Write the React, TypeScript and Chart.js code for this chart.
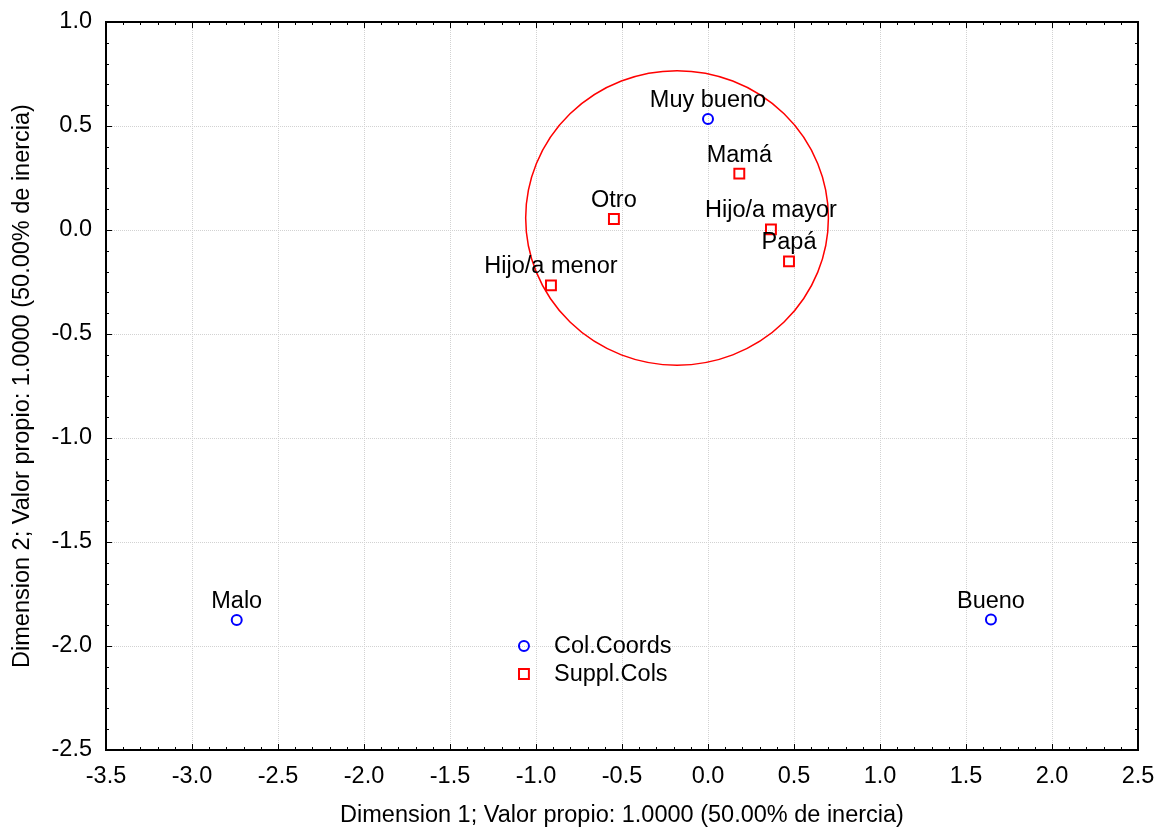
import React, { useEffect, useRef } from "react";
import { Chart, registerables } from "chart.js";

Chart.register(...registerables);

// Column coordinates (blue circles)
const colLabels = ["Muy bueno", "Malo", "Bueno"];
const colX = [0.0, -2.74, 1.645];
const colY = [0.534, -1.875, -1.873];

// Supplementary columns (red squares)
const supLabels = ["Mamá", "Otro", "Hijo/a mayor", "Papá", "Hijo/a menor"];
const supX = [0.182, -0.547, 0.366, 0.471, -0.913];
const supY = [0.271, 0.053, 0.003, -0.151, -0.266];

// Highlight ellipse (data units)
const ellipseCenter = [-0.18, 0.058];
const ellipseRadii = [0.88, 0.708];

const seriesNames = ["Col.Coords", "Suppl.Cols"];
const xRange = [-3.5, 2.5];
const yRange = [-2.5, 1.0];
const majorStep = 0.5;
const minorStep = 0.1;

const xTitle = "Dimension 1; Valor propio: 1.0000 (50.00% de inercia)";
const yTitle = "Dimension 2; Valor propio: 1.0000 (50.00% de inercia)";

const FONT = "'Liberation Sans', Arial, sans-serif";
const FS = 23.5;

const framePlugin = {
  id: "frameTicks",
  afterDraw(chart: any) {
    const { ctx, chartArea: a, scales } = chart;
    const xs = scales.x;
    const ys = scales.y;
    ctx.save();
    ctx.strokeStyle = "#000";
    ctx.lineWidth = 1;
    const nx = Math.round((xRange[1] - xRange[0]) / minorStep);
    for (let i = 0; i <= nx; i++) {
      const v = xRange[0] + i * minorStep;
      const major = i % Math.round(majorStep / minorStep) === 0;
      const len = major ? 6 : 3;
      const px = Math.round(xs.getPixelForValue(v)) + 0.5;
      ctx.beginPath();
      ctx.moveTo(px, a.bottom);
      ctx.lineTo(px, a.bottom - len);
      ctx.moveTo(px, a.top);
      ctx.lineTo(px, a.top + len);
      ctx.stroke();
    }
    const ny = Math.round((yRange[1] - yRange[0]) / minorStep);
    for (let i = 0; i <= ny; i++) {
      const v = yRange[0] + i * minorStep;
      const major = i % Math.round(majorStep / minorStep) === 0;
      const len = major ? 6 : 3;
      const py = Math.round(ys.getPixelForValue(v)) + 0.5;
      ctx.beginPath();
      ctx.moveTo(a.left, py);
      ctx.lineTo(a.left + len, py);
      ctx.moveTo(a.right, py);
      ctx.lineTo(a.right - len, py);
      ctx.stroke();
    }
    ctx.lineWidth = 2;
    ctx.strokeRect(a.left, a.top, a.right - a.left, a.bottom - a.top);
    ctx.restore();
  },
};

const ellipsePlugin = {
  id: "ellipse",
  beforeDatasetsDraw(chart: any) {
    const { ctx, scales } = chart;
    const cx = scales.x.getPixelForValue(ellipseCenter[0]);
    const cy = scales.y.getPixelForValue(ellipseCenter[1]);
    const rx = Math.abs(scales.x.getPixelForValue(ellipseCenter[0] + ellipseRadii[0]) - cx);
    const ry = Math.abs(scales.y.getPixelForValue(ellipseCenter[1] + ellipseRadii[1]) - cy);
    ctx.save();
    ctx.strokeStyle = "#ff0000";
    ctx.lineWidth = 1.5;
    ctx.beginPath();
    ctx.ellipse(cx, cy, rx, ry, 0, 0, Math.PI * 2);
    ctx.stroke();
    ctx.restore();
  },
};

const labelsPlugin = {
  id: "pointLabels",
  afterDatasetsDraw(chart: any) {
    const { ctx } = chart;
    ctx.save();
    ctx.font = `${FS}px ${FONT}`;
    ctx.fillStyle = "#000";
    ctx.textAlign = "center";
    ctx.textBaseline = "alphabetic";
    chart.data.datasets.forEach((ds: any, di: number) => {
      const meta = chart.getDatasetMeta(di);
      meta.data.forEach((el: any, i: number) => {
        ctx.fillText(ds.pointLabels[i], el.x, el.y - 12);
      });
    });
    ctx.restore();
  },
};

const legendPlugin = {
  id: "innerLegend",
  afterDraw(chart: any) {
    const { ctx, scales } = chart;
    // legend anchored in data space near lower middle of plot
    const lx = scales.x.getPixelForValue(-1.07);
    const ly0 = scales.y.getPixelForValue(-2.0);
    const gap = 28;
    ctx.save();
    ctx.font = `${FS}px ${FONT}`;
    ctx.textBaseline = "middle";
    ctx.textAlign = "left";
    chart.data.datasets.forEach((ds: any, i: number) => {
      const y = ly0 + i * gap;
      ctx.strokeStyle = ds.borderColor;
      ctx.lineWidth = ds.borderWidth;
      ctx.beginPath();
      if (ds.pointStyle === "circle") {
        ctx.arc(lx, y, ds.pointRadius, 0, Math.PI * 2);
      } else {
        const s = Math.SQRT1_2 * ds.pointRadius;
        ctx.rect(lx - s, y - s, 2 * s, 2 * s);
      }
      ctx.stroke();
      ctx.fillStyle = "#000";
      ctx.fillText(ds.label, lx + 30, y + 1);
    });
    ctx.restore();
  },
};

export default function App() {
  const ref = useRef<HTMLCanvasElement | null>(null);
  useEffect(() => {
    document.body.style.margin = "0";
    const canvas = ref.current!;
    const chart = new Chart(canvas, {
      type: "scatter",
      data: {
        datasets: [
          {
            label: seriesNames[0],
            data: colX.map((x, i) => ({ x, y: colY[i] })),
            pointLabels: colLabels,
            pointStyle: "circle",
            pointRadius: 5,
            pointHoverRadius: 5,
            borderColor: "#0000ff",
            backgroundColor: "rgba(0,0,0,0)",
            borderWidth: 2,
          } as any,
          {
            label: seriesNames[1],
            data: supX.map((x, i) => ({ x, y: supY[i] })),
            pointLabels: supLabels,
            pointStyle: "rect",
            pointRadius: 7,
            pointHoverRadius: 7,
            borderColor: "#ff0000",
            backgroundColor: "rgba(0,0,0,0)",
            borderWidth: 2,
          } as any,
        ],
      },
      options: {
        responsive: false,
        animation: false,
        events: [],
        layout: { padding: { left: 0, top: 22, right: 23, bottom: 0 } },
        plugins: {
          legend: { display: false },
          tooltip: { enabled: false },
        },
        scales: {
          x: {
            type: "linear",
            min: xRange[0],
            max: xRange[1],
            afterFit: (s: any) => {
              s.height = 80;
              s.paddingLeft = 0;
              s.paddingRight = 0;
            },
            afterBuildTicks: (s: any) => {
              const t = [];
              const n = Math.round((xRange[1] - xRange[0]) / majorStep);
              for (let i = 0; i <= n; i++) t.push({ value: xRange[0] + i * majorStep });
              s.ticks = t;
            },
            ticks: {
              callback: (v: any) => Number(v).toFixed(1),
              color: "#000",
              font: { family: FONT, size: FS },
              padding: 12,
              maxRotation: 0,
              autoSkip: false,
            },
            grid: {
              color: "#d2d2d2",
              lineWidth: 1,
              drawTicks: false,
            },
            border: { display: false, dash: [1, 1] },
            title: {
              display: true,
              text: xTitle,
              color: "#000",
              font: { family: FONT, size: FS },
              padding: { top: 0, bottom: 0 },
            },
          },
          y: {
            type: "linear",
            min: yRange[0],
            max: yRange[1],
            afterFit: (s: any) => {
              s.width = 106;
              s.paddingTop = 0;
              s.paddingBottom = 0;
            },
            afterBuildTicks: (s: any) => {
              const t = [];
              const n = Math.round((yRange[1] - yRange[0]) / majorStep);
              for (let i = 0; i <= n; i++) t.push({ value: yRange[0] + i * majorStep });
              s.ticks = t;
            },
            ticks: {
              callback: (v: any) => Number(v).toFixed(1),
              color: "#000",
              font: { family: FONT, size: FS },
              padding: 14,
              autoSkip: false,
            },
            grid: {
              color: "#d2d2d2",
              lineWidth: 1,
              drawTicks: false,
            },
            border: { display: false, dash: [1, 1] },
            title: {
              display: true,
              text: yTitle,
              color: "#000",
              font: { family: FONT, size: FS },
              padding: { top: 8, bottom: 0 },
            },
          },
        },
      },
      plugins: [ellipsePlugin, labelsPlugin, framePlugin, legendPlugin],
    } as any);
    return () => chart.destroy();
  }, []);
  return (
    <div style={{ position: "absolute", left: 0, top: 0, width: 1161, height: 830 }}>
      <canvas ref={ref} width={1161} height={830} style={{ width: 1161, height: 830 }} />
    </div>
  );
}
